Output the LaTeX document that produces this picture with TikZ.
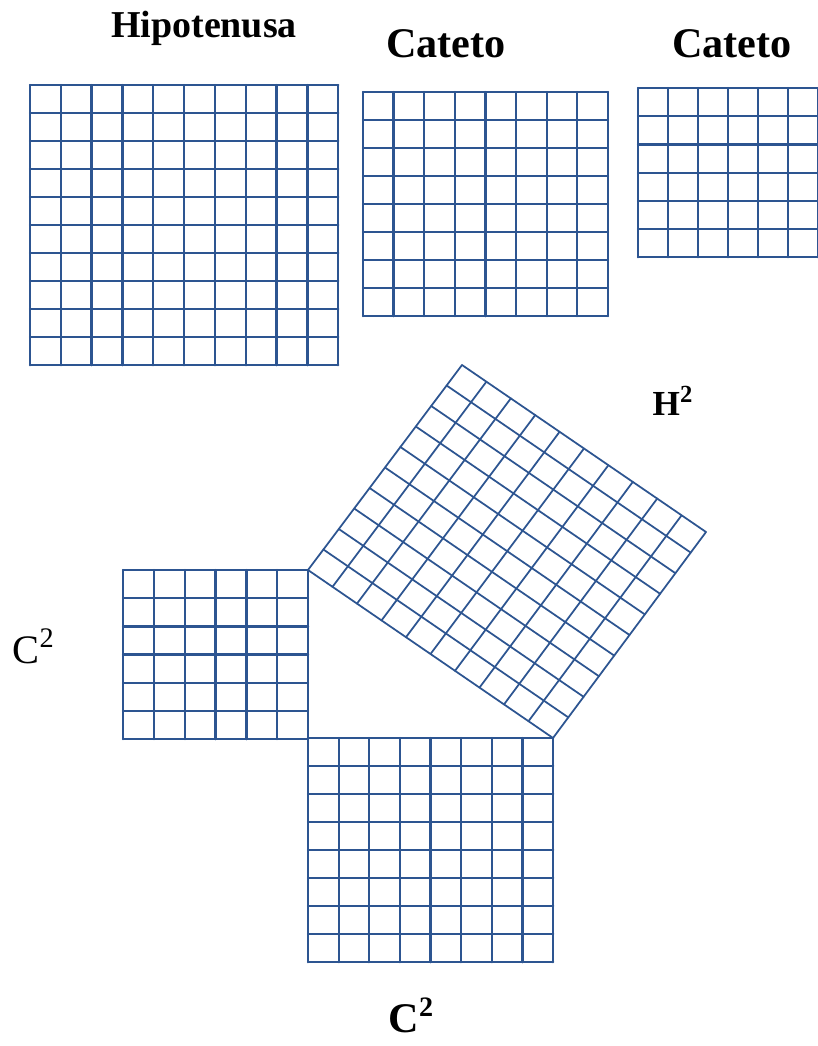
\documentclass[tikz,border=0pt]{standalone}
\usepackage{fontspec}
\setmainfont{Liberation Serif}
\usepackage{tikz}
\usetikzlibrary{calc}
\definecolor{gridblue}{RGB}{45,85,145}

\begin{document}
\begin{tikzpicture}[x=0.01cm,y=-0.01cm]
  \tikzstyle{rejilla} = [draw=gridblue, line width=0.65pt, line cap=round]
  \tikzstyle{rotulo} = [inner sep=0pt, anchor=base, font=\bfseries]

  \useasboundingbox (0,0) rectangle (817,1046);

  % titulos
  \node[rotulo, font=\fontsize{10.8}{13}\selectfont\bfseries] (hip) at (204,38) {Hipotenusa};
  \node[rotulo, font=\fontsize{12}{14}\selectfont\bfseries] (cat1) at (446,58) {Cateto};
  \node[rotulo, font=\fontsize{12}{14}\selectfont\bfseries] (cat2) at (732,58) {Cateto};

  % cuadrados de arriba
  \begin{scope}[shift={(30,85)}, x=0.308cm, y=-0.28cm]
    \foreach \i in {0,...,10} {
      \draw[rejilla] (\i,0) -- (\i,10);
      \draw[rejilla] (0,\i) -- (10,\i);
    }
  \end{scope}
  \begin{scope}[shift={(363,92)}, x=0.306cm, y=-0.28cm]
    \foreach \i in {0,...,8} {
      \draw[rejilla] (\i,0) -- (\i,8);
      \draw[rejilla] (0,\i) -- (8,\i);
    }
  \end{scope}
  \begin{scope}[shift={(638,88)}, x=0.30cm, y=-0.282cm]
    \foreach \i in {0,...,6} {
      \draw[rejilla] (\i,0) -- (\i,6);
      \draw[rejilla] (0,\i) -- (6,\i);
    }
  \end{scope}

  % triangulo con sus cuadrados
  \coordinate (A) at (308,570);
  \coordinate (C) at (553,738);
  \coordinate (R) at (706,532);
  \coordinate (T) at (462,365);

  \begin{scope}[shift={(123,570)}, x=0.3083cm, y=-0.2817cm]
    \foreach \i in {0,...,6} {
      \draw[rejilla] (\i,0) -- (\i,6);
      \draw[rejilla] (0,\i) -- (6,\i);
    }
  \end{scope}
  \begin{scope}[shift={(308,738)}, x=0.30625cm, y=-0.28cm]
    \foreach \i in {0,...,8} {
      \draw[rejilla] (\i,0) -- (\i,8);
      \draw[rejilla] (0,\i) -- (8,\i);
    }
  \end{scope}
  \foreach \i in {0,...,10} {
    \draw[rejilla, line width=0.5pt] ($(A)!\i/10!(C)$) -- ($(T)!\i/10!(R)$);
    \draw[rejilla, line width=0.5pt] ($(A)!\i/10!(T)$) -- ($(C)!\i/10!(R)$);
  }

  % areas
  \node[rotulo, anchor=base west, font=\fontsize{10}{12}\selectfont\bfseries] (h2) at (652,415) {H\textsuperscript{2}};
  \node[rotulo, anchor=base west, font=\fontsize{11.5}{13}\selectfont] (c2a) at (12,663) {C\textsuperscript{2}};
  \node[rotulo, anchor=base west, font=\fontsize{12}{14}\selectfont\bfseries] (c2b) at (388,1032) {C\textsuperscript{2}};
\end{tikzpicture}
\end{document}
